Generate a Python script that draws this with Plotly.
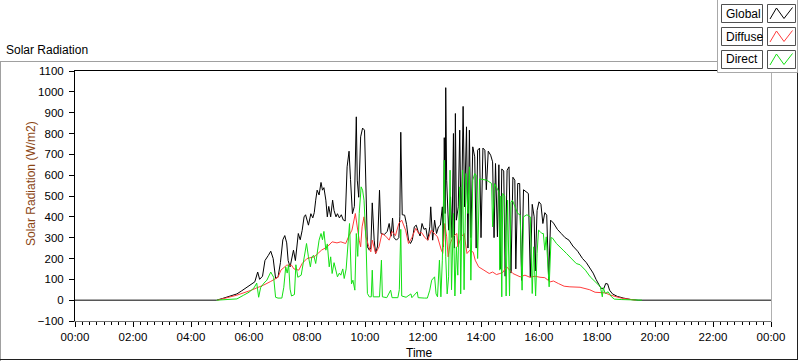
import plotly.graph_objects as go

# ---------------- data ----------------
GLOBAL_T = ["00:00","04:53","05:05","05:20","05:35","05:45","05:55","06:05","06:12","06:18","06:22","06:28",
            "06:33","06:40","06:45","06:50","06:55","07:00","07:05","07:10","07:14","07:18","07:21","07:25",
            "07:32","07:36","07:42","07:46","07:50","07:54","07:57","08:03","08:08","08:12","08:15","08:18",
            "08:21","08:25","08:29","08:32","08:35","08:39","08:42","08:45","08:49","08:53","08:56","09:00",
            "09:03","09:07","09:11","09:15","09:19","09:23","09:27","09:30","09:34","09:38","09:42","09:44",
            "09:47","09:51","09:55","09:59","10:02","10:05","10:09","10:12","10:15","10:19","10:22","10:26",
            "10:30","10:33","10:40","10:46","10:50","10:54","10:57","11:00","11:05","11:10","11:12","11:14",
            "11:17","11:22","11:26","11:30","11:34","11:38","11:42","11:46","11:50","11:54","11:58","12:02",
            "12:06","12:10","12:14","12:16","12:20","12:24","12:28","12:32","12:36","12:40","12:42","12:44",
            "12:46","12:47","12:49","12:53","12:57","13:00","13:03","13:05","13:07","13:09","13:13","13:16",
            "13:19","13:23","13:26","13:30","13:33","13:36","13:39","13:43","13:47","13:50","13:53","13:57",
            "14:00","14:04","14:08","14:11","14:15","14:20","14:24","14:27","14:30","14:34","14:37","14:40",
            "14:43","14:47","14:50","14:54","14:58","15:02","15:06","15:10","15:12","15:16","15:20","15:24",
            "15:28","15:33","15:38","15:42","15:46","15:50","15:52","15:56","16:00","16:04","16:08","16:12",
            "16:16","16:20","16:24","16:30","16:38","16:46","16:54","17:02","17:10","17:20","17:30","17:38",
            "17:45","17:52","17:58","18:03","18:08","18:14","18:18","18:22","18:26","18:32","18:42","18:55",
            "19:10","19:25","24:00"]
GLOBAL_V = [0,0,8,20,30,45,60,75,88,135,100,115,
            190,215,235,200,105,110,180,290,310,275,190,160,
            240,190,320,290,335,400,410,360,415,395,420,480,
            528,505,565,528,540,480,400,450,400,480,430,400,
            415,395,410,385,380,640,715,580,415,450,880,576,
            494,784,826,816,576,256,240,250,467,288,224,260,
            528,320,315,330,368,307,394,300,288,300,400,806,
            410,408,363,288,272,290,352,360,330,308,368,340,
            345,288,352,448,288,384,320,352,360,448,256,780,
            416,1020,576,336,496,300,800,250,896,384,448,816,
            288,930,448,832,250,816,300,736,688,250,720,730,
            300,730,720,530,715,696,664,300,656,304,650,150,
            630,620,115,624,640,130,590,576,150,560,560,95,
            530,520,512,110,460,400,140,430,472,460,368,420,
            408,95,384,370,340,320,300,288,260,235,200,180,
            155,130,100,75,58,55,80,78,48,30,18,10,
            3,0,0]

DIFFUSE_T = ["04:55","05:05","05:20","05:35","05:50","06:05","06:15","06:30","06:45","07:00","07:06","07:18",
             "07:28","07:33","07:43","07:50","08:00","08:15","08:30","08:42","08:52","09:02","09:10","09:20",
             "09:27","09:33","09:40","09:43","09:48","09:51","09:54","09:58","10:02","10:08","10:12","10:15",
             "10:22","10:29","10:35","10:43","10:50","10:56","11:03","11:10","11:16","11:24","11:30","11:37",
             "11:45","11:51","11:57","12:04","12:10","12:17","12:24","12:30","12:38","12:41","12:45","12:49",
             "12:52","12:56","13:02","13:10","13:12","13:19","13:25","13:31","13:37","13:44","13:48","13:55",
             "14:06","14:17","14:24","14:32","14:39","14:45","14:53","15:00","15:06","15:21","15:31","15:41",
             "15:52","16:02","16:12","16:23","16:30","16:40","16:52","17:04","17:25","17:45","17:56","18:17",
             "18:28","18:50","19:05","19:20"]
DIFFUSE_V = [0,5,15,24,35,48,58,72,90,110,144,168,
             168,150,144,176,200,208,240,256,280,275,280,272,
             310,336,416,360,288,256,352,400,304,256,232,288,
             224,256,320,307,288,330,310,368,384,336,272,300,
             345,320,325,300,288,336,320,304,240,225,368,304,
             208,270,304,320,256,304,320,224,240,230,192,160,
             144,128,135,123,128,133,160,140,128,112,120,110,
             115,110,108,88,92,80,67,64,62,50,38,35,
             24,10,5,0]

DIRECT_T = ["04:53","05:10","05:25","05:35","05:49","06:00","06:10","06:16","06:20","06:24","06:31","06:37",
            "06:45","06:51","06:55","07:00","07:08","07:12","07:16","07:19","07:22","07:25","07:28","07:34",
            "07:37","07:41","07:48","07:56","07:59","08:03","08:07","08:10","08:14","08:18","08:21","08:25",
            "08:29","08:32","08:35","08:39","08:42","08:46","08:49","08:52","08:56","09:00","09:03","09:07",
            "09:10","09:14","09:17","09:21","09:24","09:28","09:32","09:35","09:39","09:42","09:45","09:48",
            "09:52","09:55","09:58","10:02","10:05","10:09","10:13","10:15","10:17","10:30","10:34","10:36",
            "10:45","10:53","10:56","11:08","11:11","11:14","11:16","11:25","11:35","11:37","11:48","11:50",
            "12:03","12:09","12:14","12:18","12:24","12:27","12:30","12:34","12:37","12:40","12:44","12:47",
            "12:50","12:53","12:56","12:59","13:03","13:06","13:09","13:12","13:16","13:18","13:22","13:25",
            "13:29","13:33","13:36","13:39","13:43","13:47","13:50","13:53","13:57","14:04","14:12","14:22",
            "14:24","14:28","14:33","14:37","14:39","14:41","14:43","14:45","14:49","14:52","14:55","14:59",
            "15:02","15:05","15:10","15:16","15:21","15:25","15:28","15:35","15:42","15:46","15:49","15:53",
            "15:56","15:59","16:02","16:06","16:09","16:12","16:15","16:21","16:25","16:28","16:36","16:44",
            "16:50","16:57","17:04","17:10","17:17","17:25","17:36","17:46","17:56","18:07","18:11","18:13",
            "18:17","18:23","18:30","18:36","18:50","19:30","19:33"]
DIRECT_V = [0,2,4,6,24,38,58,82,14,60,82,96,
            135,110,14,10,10,62,160,130,170,53,20,27,
            170,110,120,240,272,208,160,208,215,176,224,288,
            320,290,330,240,270,160,208,128,180,144,112,130,
            120,150,104,150,256,368,78,96,48,320,210,416,
            544,528,480,288,32,16,16,144,16,16,192,16,
            12,48,12,12,50,340,20,14,30,12,40,12,
            10,10,48,96,112,30,16,192,16,192,672,208,
            30,112,624,50,416,20,256,120,544,30,624,50,
            608,416,640,96,576,608,600,200,582,580,576,560,
            352,560,540,520,144,500,16,512,500,20,480,20,
            470,480,450,416,410,48,400,410,400,32,256,20,
            224,336,330,320,320,240,304,64,300,298,272,256,
            240,224,208,192,176,170,144,112,88,64,16,60,
            32,40,16,5,3,2,0]

X_TICK_LABELS = ["00:00","02:00","04:00","06:00","08:00","10:00","12:00",
                 "14:00","16:00","18:00","20:00","22:00","00:00"]
SERIES_NAMES = ["Global", "Diffuse", "Direct"]

# ---------------- helpers ----------------
def to_hours(t):
    h, m = t.split(":")
    return int(h) + int(m) / 60.0

FONT = "Liberation Sans, Arial, sans-serif"
W, H = 800, 361
L, R, T, B = 75, 771, 71, 321   # plot area in pixels

def px(x):
    return (x - L) / (R - L)

def py(y):
    return (B - y) / (B - T)

colors = {"Global": "#000000", "Diffuse": "#ff3c3c", "Direct": "#14e014"}

fig = go.Figure()
for name, tt, vv in [("Global", GLOBAL_T, GLOBAL_V),
                     ("Diffuse", DIFFUSE_T, DIFFUSE_V),
                     ("Direct", DIRECT_T, DIRECT_V)]:
    fig.add_trace(go.Scatter(x=[to_hours(t) for t in tt], y=vv, mode="lines", name=name,
                             line=dict(color=colors[name], width=1), hoverinfo="skip"))

shapes = []
def line(x0, y0, x1, y1, color, width=1):
    shapes.append(dict(type="line", xref="paper", yref="paper",
                       x0=px(x0), y0=py(y0), x1=px(x1), y1=py(y1),
                       line=dict(color=color, width=width)))

def rect(x0, y0, x1, y1, color, fill):
    shapes.append(dict(type="rect", xref="paper", yref="paper",
                       x0=px(x0), y0=py(y0), x1=px(x1), y1=py(y1),
                       line=dict(color=color, width=1), fillcolor=fill))

# outer frame
line(0, 61.5, 717, 61.5, "#a0a0a0")
line(0.5, 61, 0.5, 361, "#a0a0a0")
line(797.5, 72, 797.5, 360, "#202020")
line(0, 359.5, 798, 359.5, "#202020")
# plot frame
line(74.5, 70.5, 717, 70.5, "#000000")
line(74.5, 70, 74.5, 321.5, "#000000")
line(74.5, 321.5, 771.5, 321.5, "#707070")
line(771.5, 72, 771.5, 321.5, "#b0b0b0")
# legend panel
rect(717.5, -1, 797.5, 72.5, "#a8a8a8", "#ffffff")

annotations = []
for i, name in enumerate(SERIES_NAMES):
    top = 4 + 23 * i
    rect(721.5, top + 0.5, 762.5, top + 18.5, "#505050", "#ffffff")
    rect(767.5, top + 0.5, 795.5, top + 18.5, "#505050", "#ffffff")
    pts = [(770, top + 15), (776.5, top + 4), (784, top + 14.5), (792.5, top + 3.5)]
    path = "M " + " L ".join(f"{px(x):.5f},{py(y):.5f}" for x, y in pts)
    shapes.append(dict(type="path", xref="paper", yref="paper", path=path,
                       line=dict(color=colors[name], width=1)))
    annotations.append(dict(text=name, xref="paper", yref="paper", x=px(724), y=py(top + 9.5),
                            xanchor="left", yanchor="middle", showarrow=False,
                            font=dict(family=FONT, size=12, color="#000000")))

annotations += [
    dict(text="Solar Radiation", xref="paper", yref="paper", x=px(4), y=py(50),
         xanchor="left", yanchor="middle", showarrow=False,
         font=dict(family=FONT, size=12, color="#000000")),
    dict(text="Solar Radiation (W/m2)", xref="paper", yref="paper", x=px(31), y=py(183),
         xanchor="center", yanchor="middle", textangle=-90, showarrow=False,
         font=dict(family=FONT, size=12, color="#8b4513")),
    dict(text="Time", xref="paper", yref="paper", x=px(419), y=py(353),
         xanchor="center", yanchor="middle", showarrow=False,
         font=dict(family=FONT, size=12, color="#000000")),
]

fig.update_layout(
    width=W, height=H,
    margin=dict(l=L, r=W - R, t=T, b=H - B, pad=0),
    paper_bgcolor="#ffffff", plot_bgcolor="#ffffff",
    showlegend=False,
    shapes=shapes, annotations=annotations,
    xaxis=dict(range=[0, 24], tickvals=list(range(0, 25, 2)), ticktext=X_TICK_LABELS,
               ticks="outside", ticklen=5, tickwidth=1, tickcolor="#000000",
               minor=dict(dtick=0.25, ticks="outside", ticklen=3, tickcolor="#000000", showgrid=False),
               showgrid=False, zeroline=False, showline=False, fixedrange=True,
               tickfont=dict(family=FONT, size=11.5, color="#000000")),
    yaxis=dict(range=[-100, 1100], dtick=100, tick0=0,
               ticks="outside", ticklen=5, tickwidth=1, tickcolor="#000000",
               ticklabelstandoff=3,
               showgrid=False, zeroline=False, showline=False, fixedrange=True,
               tickfont=dict(family=FONT, size=11.5, color="#000000")),
)

fig.write_html("out.html", config={"displayModeBar": False},
               post_script="document.body.style.margin='0';document.body.style.overflow='hidden';")
